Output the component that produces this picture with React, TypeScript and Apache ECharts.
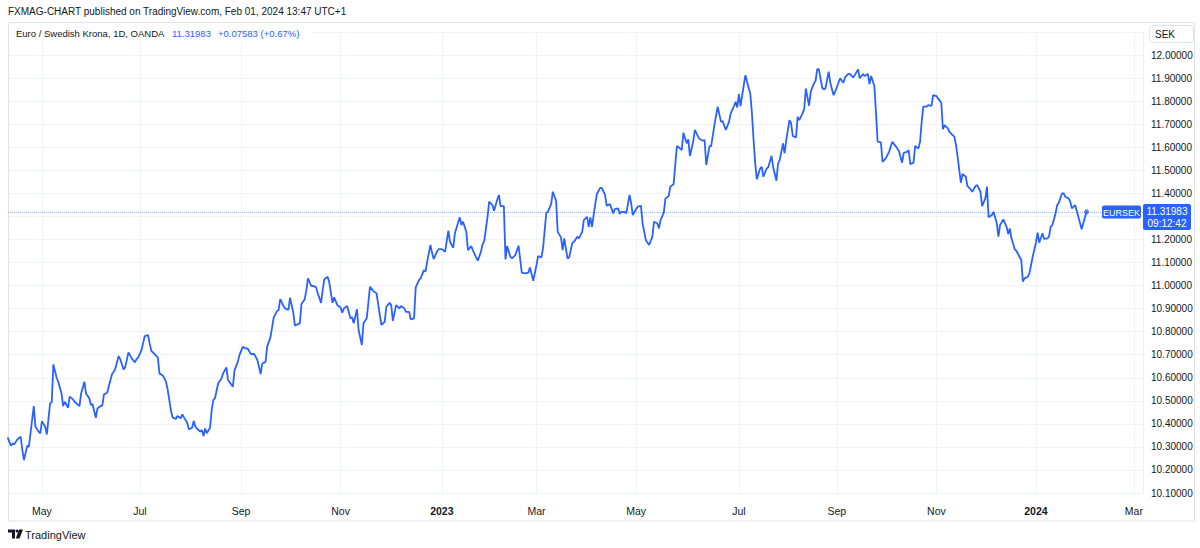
import React, { useEffect, useRef } from "react";
import * as echarts from "echarts";

// ---- data: EUR/SEK daily close ----
const data2022: [string, number][] = [
  ["04-11", 10.341], ["04-13", 10.305], ["04-14", 10.315], ["04-15", 10.311], ["04-17", 10.333],
  ["04-19", 10.344], ["04-20", 10.286], ["04-21", 10.243], ["04-23", 10.305], ["04-24", 10.301],
  ["04-27", 10.477], ["04-28", 10.387], ["04-30", 10.366], ["05-01", 10.359], ["05-02", 10.412],
  ["05-04", 10.387], ["05-05", 10.354], ["05-07", 10.489], ["05-08", 10.493], ["05-09", 10.658],
  ["05-11", 10.6], ["05-12", 10.583], ["05-14", 10.532], ["05-15", 10.477], ["05-16", 10.496],
  ["05-18", 10.47], ["05-19", 10.518], ["05-21", 10.506], ["05-22", 10.496], ["05-25", 10.477],
  ["05-26", 10.532], ["05-28", 10.583], ["05-29", 10.532], ["05-31", 10.511], ["06-01", 10.482],
  ["06-02", 10.486], ["06-04", 10.426], ["06-05", 10.467], ["06-07", 10.477], ["06-08", 10.48],
  ["06-09", 10.528], ["06-11", 10.535], ["06-12", 10.564], ["06-14", 10.616], ["06-15", 10.626],
  ["06-16", 10.641], ["06-18", 10.694], ["06-19", 10.68], ["06-21", 10.636], ["06-22", 10.645],
  ["06-24", 10.71], ["06-26", 10.684], ["06-28", 10.667], ["06-29", 10.682], ["06-30", 10.688],
  ["07-02", 10.72], ["07-04", 10.781], ["07-06", 10.785], ["07-07", 10.749], ["07-08", 10.717],
  ["07-10", 10.703], ["07-12", 10.688], ["07-13", 10.619], ["07-15", 10.61], ["07-17", 10.583],
  ["07-18", 10.55], ["07-20", 10.46], ["07-21", 10.428], ["07-23", 10.421], ["07-24", 10.434],
  ["07-26", 10.424], ["07-27", 10.441], ["07-28", 10.428], ["07-30", 10.405], ["07-31", 10.376],
  ["08-02", 10.383], ["08-03", 10.413], ["08-04", 10.387], ["08-06", 10.373], ["08-07", 10.366],
  ["08-08", 10.373], ["08-09", 10.347], ["08-10", 10.38], ["08-11", 10.359], ["08-13", 10.383],
  ["08-14", 10.46], ["08-15", 10.503], ["08-16", 10.511], ["08-18", 10.576], ["08-20", 10.597],
  ["08-21", 10.619], ["08-23", 10.645], ["08-24", 10.59], ["08-27", 10.561], ["08-28", 10.633],
  ["08-30", 10.669], ["08-31", 10.698], ["09-02", 10.734], ["09-04", 10.727], ["09-05", 10.727],
  ["09-07", 10.703], ["09-09", 10.703], ["09-11", 10.677], ["09-13", 10.616], ["09-14", 10.662],
  ["09-16", 10.669], ["09-17", 10.735], ["09-19", 10.775], ["09-21", 10.862], ["09-23", 10.889],
  ["09-24", 10.894], ["09-25", 10.941], ["09-27", 10.911], ["09-28", 10.901], ["09-30", 10.894],
  ["10-01", 10.947], ["10-03", 10.882], ["10-04", 10.826], ["10-05", 10.83], ["10-07", 10.836],
  ["10-08", 10.92], ["10-10", 10.941], ["10-11", 10.98], ["10-12", 11.031], ["10-14", 10.998],
  ["10-15", 10.999], ["10-17", 10.992], ["10-18", 10.966], ["10-20", 10.925], ["10-21", 10.98],
  ["10-22", 11.027], ["10-24", 11.038], ["10-25", 11.016], ["10-27", 10.925], ["10-28", 10.949],
  ["10-30", 10.915], ["11-01", 10.905], ["11-02", 10.882], ["11-03", 10.901], ["11-05", 10.911],
  ["11-07", 10.858], ["11-08", 10.862], ["11-09", 10.836], ["11-11", 10.897], ["11-12", 10.807],
  ["11-14", 10.742], ["11-15", 10.836], ["11-17", 10.858], ["11-19", 10.995], ["11-21", 10.976],
  ["11-23", 10.966], ["11-25", 10.872], ["11-26", 10.829], ["11-28", 10.843], ["11-29", 10.908],
  ["12-01", 10.925], ["12-02", 10.915], ["12-03", 10.847], ["12-05", 10.915], ["12-07", 10.901],
  ["12-08", 10.911], ["12-10", 10.901], ["12-11", 10.886], ["12-13", 10.886], ["12-14", 10.853],
  ["12-16", 10.858], ["12-17", 10.992], ["12-19", 11.024], ["12-20", 11.031], ["12-22", 11.067],
  ["12-23", 11.06], ["12-24", 11.103], ["12-26", 11.176], ["12-27", 11.142], ["12-28", 11.115],
  ["12-30", 11.147], ["12-31", 11.158],
];

const data2023: [string, number][] = [
  ["01-02", 11.158], ["01-04", 11.147], ["01-06", 11.238], ["01-07", 11.19], ["01-09", 11.164],
  ["01-10", 11.227], ["01-13", 11.296], ["01-14", 11.262], ["01-15", 11.277], ["01-17", 11.233],
  ["01-18", 11.154], ["01-20", 11.171], ["01-21", 11.154], ["01-23", 11.122], ["01-24", 11.108],
  ["01-26", 11.147], ["01-27", 11.18], ["01-28", 11.193], ["01-30", 11.298], ["01-31", 11.364],
  ["02-02", 11.349], ["02-03", 11.324], ["02-05", 11.374], ["02-06", 11.393], ["02-07", 11.345],
  ["02-09", 11.345], ["02-10", 11.114], ["02-11", 11.171], ["02-13", 11.125], ["02-14", 11.118],
  ["02-16", 11.132], ["02-18", 11.173], ["02-20", 11.056], ["02-22", 11.053], ["02-24", 11.056],
  ["02-25", 11.079], ["02-27", 11.021], ["03-01", 11.089], ["03-02", 11.128], ["03-04", 11.122],
  ["03-05", 11.161], ["03-07", 11.316], ["03-08", 11.32], ["03-10", 11.354], ["03-11", 11.407],
  ["03-13", 11.368], ["03-14", 11.233], ["03-16", 11.209], ["03-17", 11.154], ["03-18", 11.205],
  ["03-20", 11.118], ["03-21", 11.122], ["03-23", 11.186], ["03-24", 11.19], ["03-26", 11.212],
  ["03-27", 11.205], ["03-29", 11.233], ["03-30", 11.284], ["04-01", 11.298], ["04-02", 11.255],
  ["04-03", 11.296], ["04-04", 11.255], ["04-06", 11.354], ["04-07", 11.397], ["04-09", 11.424],
  ["04-10", 11.424], ["04-12", 11.393], ["04-13", 11.346], ["04-15", 11.354], ["04-17", 11.313],
  ["04-18", 11.332], ["04-20", 11.335], ["04-21", 11.31], ["04-22", 11.32], ["04-24", 11.32],
  ["04-25", 11.313], ["04-27", 11.393], ["04-28", 11.357], ["04-29", 11.306], ["05-01", 11.331],
  ["05-02", 11.342], ["05-04", 11.346], ["05-05", 11.27], ["05-07", 11.197], ["05-09", 11.176],
  ["05-11", 11.212], ["05-12", 11.277], ["05-14", 11.27], ["05-15", 11.248], ["05-16", 11.284],
  ["05-18", 11.316], ["05-19", 11.378], ["05-21", 11.388], ["05-22", 11.429], ["05-24", 11.44],
  ["05-26", 11.605], ["05-28", 11.595], ["05-29", 11.588], ["05-30", 11.663], ["06-01", 11.617],
  ["06-02", 11.634], ["06-03", 11.562], ["06-05", 11.624], ["06-06", 11.675], ["06-08", 11.646],
  ["06-09", 11.636], ["06-11", 11.628], ["06-12", 11.631], ["06-13", 11.523], ["06-15", 11.605],
  ["06-16", 11.605], ["06-18", 11.696], ["06-20", 11.776], ["06-22", 11.711], ["06-23", 11.714],
  ["06-25", 11.675], ["06-27", 11.711], ["06-28", 11.747], ["06-30", 11.779], ["07-01", 11.797],
  ["07-02", 11.773], ["07-03", 11.831], ["07-04", 11.779], ["07-06", 11.87], ["07-07", 11.913],
  ["07-08", 11.884], ["07-10", 11.831], ["07-11", 11.747], ["07-12", 11.631], ["07-13", 11.53],
  ["07-14", 11.461], ["07-16", 11.508], ["07-17", 11.515], ["07-18", 11.472], ["07-20", 11.508],
  ["07-21", 11.513], ["07-23", 11.563], ["07-24", 11.513], ["07-26", 11.455], ["07-27", 11.53],
  ["07-28", 11.544], ["07-30", 11.617], ["07-31", 11.574], ["08-01", 11.631], ["08-03", 11.718],
  ["08-04", 11.704], ["08-05", 11.649], ["08-07", 11.643], ["08-08", 11.732], ["08-09", 11.718],
  ["08-11", 11.747], ["08-12", 11.764], ["08-13", 11.855], ["08-15", 11.78], ["08-16", 11.841],
  ["08-18", 11.877], ["08-19", 11.889], ["08-20", 11.939], ["08-21", 11.939], ["08-23", 11.86],
  ["08-24", 11.851], ["08-25", 11.855], ["08-27", 11.928], ["08-28", 11.88], ["08-30", 11.826],
  ["08-31", 11.841], ["09-02", 11.88], ["09-03", 11.899], ["09-05", 11.88], ["09-06", 11.903],
  ["09-08", 11.918], ["09-09", 11.918], ["09-11", 11.903], ["09-12", 11.913], ["09-14", 11.938],
  ["09-15", 11.899], ["09-17", 11.918], ["09-18", 11.909], ["09-20", 11.918], ["09-21", 11.874],
  ["09-22", 11.909], ["09-24", 11.866], ["09-25", 11.75], ["09-26", 11.624], ["09-28", 11.621],
  ["09-29", 11.537], ["10-01", 11.552], ["10-03", 11.58], ["10-05", 11.624], ["10-07", 11.605],
  ["10-09", 11.585], ["10-11", 11.533], ["10-12", 11.576], ["10-14", 11.58], ["10-15", 11.588],
  ["10-16", 11.527], ["10-18", 11.533], ["10-19", 11.605], ["10-21", 11.595], ["10-22", 11.624],
  ["10-23", 11.711], ["10-24", 11.776], ["10-26", 11.776], ["10-27", 11.783], ["10-29", 11.779],
  ["10-30", 11.826], ["11-01", 11.822], ["11-02", 11.812], ["11-04", 11.793], ["11-05", 11.678],
  ["11-06", 11.696], ["11-08", 11.682], ["11-09", 11.667], ["11-11", 11.653], ["11-12", 11.646],
  ["11-13", 11.61], ["11-14", 11.559], ["11-16", 11.446], ["11-17", 11.484], ["11-19", 11.472],
  ["11-20", 11.432], ["11-22", 11.417], ["11-23", 11.407], ["11-25", 11.432], ["11-26", 11.436],
  ["11-28", 11.407], ["11-29", 11.345], ["12-01", 11.378], ["12-02", 11.429], ["12-03", 11.296],
  ["12-05", 11.306], ["12-06", 11.32], ["12-08", 11.27], ["12-09", 11.212], ["12-10", 11.262],
  ["12-12", 11.287], ["12-14", 11.255], ["12-15", 11.223], ["12-16", 11.248], ["12-17", 11.205],
  ["12-19", 11.157], ["12-20", 11.151], ["12-21", 11.137], ["12-23", 11.111], ["12-24", 11.017],
  ["12-25", 11.031], ["12-27", 11.038], ["12-28", 11.053], ["12-30", 11.125],
];

const data2024: [string, number][] = [
  ["01-01", 11.186], ["01-02", 11.229], ["01-03", 11.186], ["01-05", 11.227], ["01-06", 11.202],
  ["01-08", 11.205], ["01-09", 11.212], ["01-10", 11.255], ["01-11", 11.262], ["01-13", 11.313],
  ["01-14", 11.349], ["01-15", 11.359], ["01-17", 11.4], ["01-18", 11.4], ["01-19", 11.385],
  ["01-21", 11.378], ["01-22", 11.364], ["01-23", 11.335], ["01-25", 11.349], ["01-26", 11.323],
  ["01-27", 11.298], ["01-29", 11.244], ["02-01", 11.31983],
];

const tickDates = [
  "2022-05-02", "2022-07-01", "2022-09-01", "2022-11-01", "2023-01-02", "2023-03-01",
  "2023-05-01", "2023-07-03", "2023-09-01", "2023-11-01", "2024-01-01", "2024-03-01",
];
const tickLabels = ["May", "Jul", "Sep", "Nov", "2023", "Mar", "May", "Jul", "Sep", "Nov", "2024", "Mar"];

const priceMin = 10.1;
const priceMax = 12.1;
const priceStep = 0.1;
const viewStart = "2022-04-11T05:00:00";
const viewEnd = "2024-03-06T14:00:00";

const title = "FXMAG-CHART published on TradingView.com, Feb 01, 2024 13:47 UTC+1";
const symbolDesc = "Euro / Swedish Krona, 1D, OANDA";
const lastPriceText = "11.31983";
const changeText = "+0.07583 (+0.67%)";
const lastTime = "09:12:42";
const ticker = "EURSEK";
const currency = "SEK";
const brand = "TradingView";

const FONT = "'Liberation Sans', Roboto, sans-serif";
const BLUE = "#2962ff";
const TEXT = "#131722";

const toTime = (s: string) => new Date(s + "T00:00:00").getTime();

export default function App() {
  const ref = useRef<HTMLDivElement>(null);

  useEffect(() => {
    if (!ref.current) return;
    const chart = echarts.init(ref.current, undefined, { renderer: "svg" });

    const points: [number, number][] = [
      ...data2022.map(([d, v]) => [toTime(`2022-${d}`), v] as [number, number]),
      ...data2023.map(([d, v]) => [toTime(`2023-${d}`), v] as [number, number]),
      ...data2024.map(([d, v]) => [toTime(`2024-${d}`), v] as [number, number]),
    ];
    const last = points[points.length - 1];
    const tickValues = tickDates.map(toTime);

    const labelFor = (val: number) => {
      let best = 0;
      let bestD = Infinity;
      tickValues.forEach((t, i) => {
        const d = Math.abs(t - val);
        if (d < bestD) {
          bestD = d;
          best = i;
        }
      });
      const lab = tickLabels[best];
      return /^\d{4}$/.test(lab) ? `{b|${lab}}` : lab;
    };

    chart.setOption({
      animation: false,
      backgroundColor: "#ffffff",
      grid: { left: 8, right: 57, top: 32, bottom: 55, containLabel: false },
      xAxis: {
        type: "value",
        min: new Date(viewStart).getTime(),
        max: new Date(viewEnd).getTime(),
        axisLine: { show: false },
        axisTick: { show: false, customValues: tickValues },
        splitLine: { show: true, lineStyle: { color: "#f0f3fa", width: 1 } },
        axisLabel: {
          customValues: tickValues,
          formatter: (v: number) => labelFor(v),
          color: TEXT,
          fontSize: 10.5,
          fontFamily: FONT,
          margin: 12,
          rich: {
            b: { fontWeight: "bold", fontSize: 10.5, color: TEXT, fontFamily: FONT },
          },
        },
      },
      yAxis: {
        type: "value",
        position: "right",
        min: priceMin,
        max: priceMax,
        interval: priceStep,
        axisLine: { show: true, lineStyle: { color: "#eef0f5" } },
        axisTick: { show: false },
        splitLine: { show: true, lineStyle: { color: "#f0f3fa", width: 1 } },
        axisLabel: {
          showMaxLabel: false,
          // the 11.3 level sits under the last-price badge, as in the original
          formatter: (v: number) => (Math.abs(v - 11.3) < 1e-6 ? "" : v.toFixed(5)),
          color: TEXT,
          fontSize: 10,
          fontFamily: FONT,
          margin: 8,
        },
      },
      series: [
        {
          type: "line",
          data: points,
          showSymbol: false,
          lineStyle: { color: BLUE, width: 1.8 },
          itemStyle: { color: BLUE },
          z: 3,
          markLine: {
            silent: true,
            symbol: ["none", "none"],
            label: { show: false },
            lineStyle: { color: BLUE, opacity: 0.45, type: "dotted", width: 1 },
            data: [{ yAxis: last[1] }],
          },
        },
        {
          type: "scatter",
          data: [last],
          symbolSize: 5,
          itemStyle: { color: BLUE },
          z: 4,
        },
      ],
      graphic: [
        // outer frame
        {
          type: "rect",
          silent: true,
          shape: { x: 8.5, y: 22.5, width: 1186, height: 498.5 },
          style: { fill: "none", stroke: "#e0e3eb", lineWidth: 1 },
          z: 1,
        },
        {
          type: "line",
          silent: true,
          shape: { x1: 8, y1: 493.5, x2: 1143, y2: 493.5 },
          style: { stroke: "#e0e3eb", lineWidth: 1 },
        },
        // header
        {
          type: "text",
          style: {
            text: title,
            x: 8,
            y: 11,
            verticalAlign: "middle",
            fill: TEXT,
            fontSize: 10,
            fontFamily: FONT,
          },
        },
        // legend backdrop
        {
          type: "rect",
          silent: true,
          z: 15,
          shape: { x: 12, y: 26, width: 300, height: 14 },
          style: { fill: "#ffffff" },
        },
        {
          type: "text",
          z: 16,
          style: {
            text: symbolDesc,
            x: 16,
            y: 33,
            verticalAlign: "middle",
            fill: TEXT,
            fontSize: 9.5,
            fontFamily: FONT,
          },
        },
        {
          type: "text",
          z: 16,
          style: {
            text: lastPriceText,
            x: 172,
            y: 33,
            verticalAlign: "middle",
            fill: BLUE,
            fontSize: 9.5,
            fontFamily: FONT,
          },
        },
        {
          type: "text",
          z: 16,
          style: {
            text: changeText,
            x: 218,
            y: 33,
            verticalAlign: "middle",
            fill: BLUE,
            fontSize: 9.5,
            fontFamily: FONT,
          },
        },
        // currency box
        {
          type: "rect",
          shape: { x: 1149.5, y: 25.5, width: 44, height: 17, r: 4 },
          style: { fill: "#ffffff", stroke: "#e0e3eb", lineWidth: 1 },
          z: 10,
        },
        {
          type: "text",
          z: 11,
          style: {
            text: currency,
            x: 1155,
            y: 34,
            verticalAlign: "middle",
            fill: TEXT,
            fontSize: 10,
            fontFamily: FONT,
          },
        },
        // ticker label
        {
          type: "rect",
          shape: { x: 1102, y: 205.5, width: 39, height: 13, r: 2 },
          style: { fill: BLUE },
          z: 10,
        },
        {
          type: "text",
          z: 11,
          style: {
            text: ticker,
            x: 1121.5,
            y: 212.5,
            align: "center",
            verticalAlign: "middle",
            fill: "#ffffff",
            fontSize: 9,
            fontFamily: FONT,
          },
        },
        // price box
        {
          type: "rect",
          shape: { x: 1143, y: 204, width: 48, height: 26, r: 2 },
          style: { fill: BLUE },
          z: 10,
        },
        {
          type: "text",
          z: 11,
          style: {
            text: lastPriceText,
            x: 1167,
            y: 211.5,
            align: "center",
            verticalAlign: "middle",
            fill: "#ffffff",
            fontSize: 10,
            fontFamily: FONT,
          },
        },
        {
          type: "text",
          z: 11,
          style: {
            text: lastTime,
            x: 1167,
            y: 223,
            align: "center",
            verticalAlign: "middle",
            fill: "#ffffff",
            fontSize: 10,
            fontFamily: FONT,
          },
        },
        // TradingView logo
        {
          type: "polygon",
          shape: { points: [[8, 529.5], [15, 529.5], [15, 538.5], [12, 538.5], [12, 532.5], [8, 532.5]] },
          style: { fill: TEXT },
        },
        {
          type: "circle",
          shape: { cx: 17, cy: 531, r: 1.5 },
          style: { fill: TEXT },
        },
        {
          type: "polygon",
          shape: { points: [[19, 529.5], [23, 529.5], [19.5, 538.5], [15.8, 538.5]] },
          style: { fill: TEXT },
        },
        {
          type: "text",
          style: {
            text: brand,
            x: 25,
            y: 534.5,
            verticalAlign: "middle",
            fill: TEXT,
            fontSize: 11,
            fontFamily: FONT,
          },
        },
      ],
    });

    return () => chart.dispose();
  }, []);

  return (
    <div
      ref={ref}
      style={{ position: "absolute", left: 0, top: 0, width: 1200, height: 548, background: "#ffffff" }}
    />
  );
}
